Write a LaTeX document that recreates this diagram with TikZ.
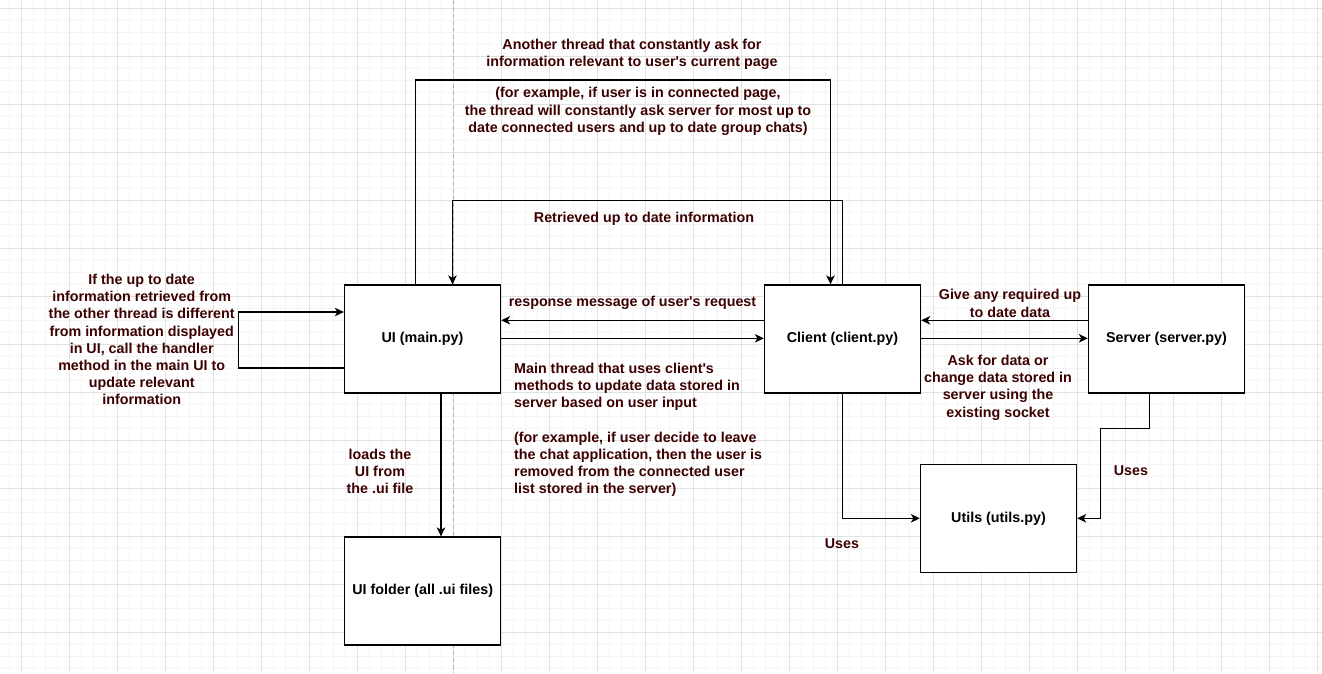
\documentclass[tikz,border=0pt]{standalone}
\usepackage{fontspec}
\setmainfont{Liberation Sans}
\usetikzlibrary{arrows.meta}
\definecolor{labelred}{RGB}{60,0,0}
\definecolor{gridmajor}{RGB}{226,226,226}
\definecolor{gridminor}{RGB}{245,245,245}
\newcommand{\sq}{\textquotesingle}
\tikzset{
  box/.style={draw, line width=1.3pt, fill=white, minimum width=156pt, minimum height=108pt, inner sep=0pt, text=black, font=\bfseries\fontsize{14.3}{17.2}\selectfont},
  lbl/.style={text=labelred, font=\bfseries\fontsize{14.3}{17.2}\selectfont, align=center, inner sep=0pt},
  conn/.style={line width=1.3pt, -{Stealth[length=9pt,width=8.5pt,inset=2.5pt]}},
}
\begin{document}
\begin{tikzpicture}[x=1pt,y=-1pt]
\useasboundingbox (0,0) rectangle (1322,673);
\fill[white] (0,0) rectangle (1322,673);
% grid
\foreach \i in {0,...,110} \draw[gridminor, line width=1pt] ({9.3+12*\i},0) -- ({9.3+12*\i},673);
\foreach \i in {0,...,56} \draw[gridminor, line width=1pt] (0,{8.3+12*\i}) -- (1322,{8.3+12*\i});
\foreach \i in {0,...,27} \draw[gridmajor, line width=1pt] ({21.3+48*\i},0) -- ({21.3+48*\i},673);
\foreach \i in {0,...,13} \draw[gridmajor, line width=1pt] (0,{8.3+48*\i}) -- (1322,{8.3+48*\i});
% page break line
\draw[gray!60, line width=1pt, dash pattern=on 4pt off 3pt] (453.3,0) -- (453.3,673);

% boxes
\node[box] (ui) at (422.5,339) {UI (main.py)};
\node[box] (client) at (842.5,339) {Client (client.py)};
\node[box] (server) at (1166.5,339) {Server (server.py)};
\node[box] (folder) at (422.7,591) {UI folder (all .ui files)};
\node[box] (utils) at (998.5,518.5) {Utils (utils.py)};

% connectors
\draw[conn] (415.7,0 |- ui.north) -- (415.7,80) -- (830.5,80) -- (830.5,0 |- client.north);
\draw[conn] (842.3,0 |- client.north) -- (842.3,200.3) -- (452.5,200.3) -- (452.5,0 |- ui.north);
\draw[conn] (ui.west |- 0,368) -- (238.3,368) -- (238.3,312) -- (ui.west |- 0,312);
\draw[conn] (client.west |- 0,320.3) -- (ui.east |- 0,320.3);
\draw[conn] (ui.east |- 0,338.3) -- (client.west |- 0,338.3);
\draw[conn] (server.west |- 0,320.3) -- (client.east |- 0,320.3);
\draw[conn] (client.east |- 0,338.3) -- (server.west |- 0,338.3);
\draw[conn] (441,0 |- ui.south) -- (441,0 |- folder.north);
\draw[conn] (842.5,0 |- client.south) -- (842.5,518.3) -- (utils.west |- 0,518.3);
\draw[conn] (1149.7,0 |- server.south) -- (1149.7,428.3) -- (1100.5,428.3) -- (1100.5,518.3) -- (utils.east |- 0,518.3);

% labels
\node[lbl] (l1) at (632,54.5) {Another thread that constantly ask for\\information relevant to user\sq s current page};
\node[lbl] (l2) at (638,111.5) {(for example, if user is in connected page,\\the thread will constantly ask server for most up to\\date connected users and up to date group chats)};
\node[lbl] (l3) at (644,219) {Retrieved up to date information};
\node[lbl] (l4) at (141.7,339.5) {If the up to date\\information retrieved from\\the other thread is different\\from information displayed\\in UI, call the handler\\method in the main UI to\\update relevant\\information};
\node[lbl] (l5) at (632.5,303.3) {response message of user\sq s request};
\node[lbl, align=left, anchor=west] (l6) at (514,429.7) {Main thread that uses client\sq s\\methods to update data stored in\\server based on user input\\[17.2pt](for example, if user decide to leave\\the chat application, then the user is\\removed from the connected user\\list stored in the server)};
\node[lbl] (l7) at (1010,303.3) {Give any required up\\to date data};
\node[lbl] (l8) at (998,387.7) {Ask for data or\\change data stored in\\server using the\\existing socket};
\node[lbl] (l9) at (380,471.5) {loads the\\UI from\\the .ui file};
\node[lbl] (l10) at (842,543.3) {Uses};
\node[lbl] (l11) at (1131,471) {Uses};
\end{tikzpicture}
\end{document}
